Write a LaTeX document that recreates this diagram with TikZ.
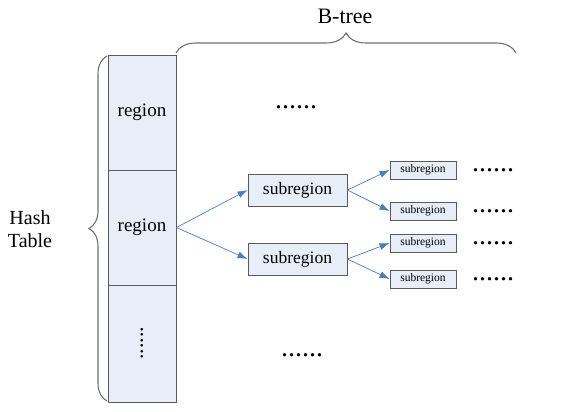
\documentclass[tikz,border=0pt]{standalone}
\usepackage{fontspec}
\setmainfont{Liberation Serif}
\usetikzlibrary{arrows.meta,decorations.pathreplacing}
\definecolor{cellfill}{HTML}{E7EEF8}
\definecolor{celldraw}{HTML}{5A5A5A}
\definecolor{arrowblue}{HTML}{4A7CC4}
\definecolor{bracegray}{HTML}{707070}
\begin{document}
\begin{tikzpicture}[x=1pt,y=-1pt,
  cell/.style={draw=celldraw,fill=cellfill,line width=0.9pt,inner sep=0pt,minimum width=68pt,minimum height=115pt,font=\fontsize{19}{20}\selectfont},
  bigsub/.style={draw=celldraw,fill=cellfill,line width=0.9pt,inner sep=0pt,minimum width=99pt,minimum height=32pt,font=\fontsize{17.5}{19}\selectfont},
  smallsub/.style={draw=celldraw,fill=cellfill,line width=0.9pt,inner sep=0pt,minimum width=66pt,minimum height=18pt,font=\fontsize{11.5}{12}\selectfont},
  conn/.style={draw=arrowblue,line width=0.7pt,-{Latex[length=10pt,width=7pt]}},
  bracestyle/.style={draw=bracegray,line width=1.1pt,decorate},
  dots/.style={inner sep=0pt,font=\fontsize{28}{28}\selectfont},
  vdots/.style={inner sep=0pt,font=\fontsize{22}{22}\selectfont,rotate=90},
  lbl/.style={inner sep=0pt,font=\fontsize{20}{23}\selectfont,align=center}
]
\useasboundingbox (0,0) rectangle (565,412);
% column
\node[cell] (r1) at (142,112.5) {region};
\node[cell] (r2) at (142,227.5) {region};
\node[cell,minimum height=117pt] (r3) at (142,343.5) {};
\node[vdots] (vd) at (142,343) {......};
% subregions
\node[bigsub] (s1) at (297.5,190) {subregion};
\node[bigsub] (s2) at (297.5,259) {subregion};
\node[smallsub] (t1) at (423,170) {subregion};
\node[smallsub] (t2) at (423,211) {subregion};
\node[smallsub] (t3) at (423,243) {subregion};
\node[smallsub] (t4) at (423,279) {subregion};
% arrows
\draw[conn] (r2.east) -- (s1.west);
\draw[conn] (r2.east) -- (s2.west);
\draw[conn] (s1.east) -- (t1.west);
\draw[conn] (s1.east) -- (t2.west);
\draw[conn] (s2.east) -- (t3.west);
\draw[conn] (s2.east) -- (t4.west);
% dots
\node[dots] (d0) at (296,107) {......};
\node[dots] (d5) at (302,355) {......};
\node[dots] (d1) at (493,170) {......};
\node[dots] (d2) at (493,211) {......};
\node[dots] (d3) at (493,243) {......};
\node[dots] (d4) at (493,279) {......};
% braces
\coordinate (lb1) at (107,401);
\coordinate (lb2) at (107,56);
\draw[bracestyle,decoration={brace,amplitude=18pt}] (lb1) -- (lb2);
\coordinate (tb1) at (176,53);
\coordinate (tb2) at (516,53);
\draw[bracestyle,decoration={brace,amplitude=20pt}] (tb1) -- (tb2);
% labels
\node[lbl] (ht) at (30,229) {Hash\\Table};
\node[lbl,font=\fontsize{22}{24}\selectfont] (bt) at (345,16) {B-tree};
\end{tikzpicture}
\end{document}
